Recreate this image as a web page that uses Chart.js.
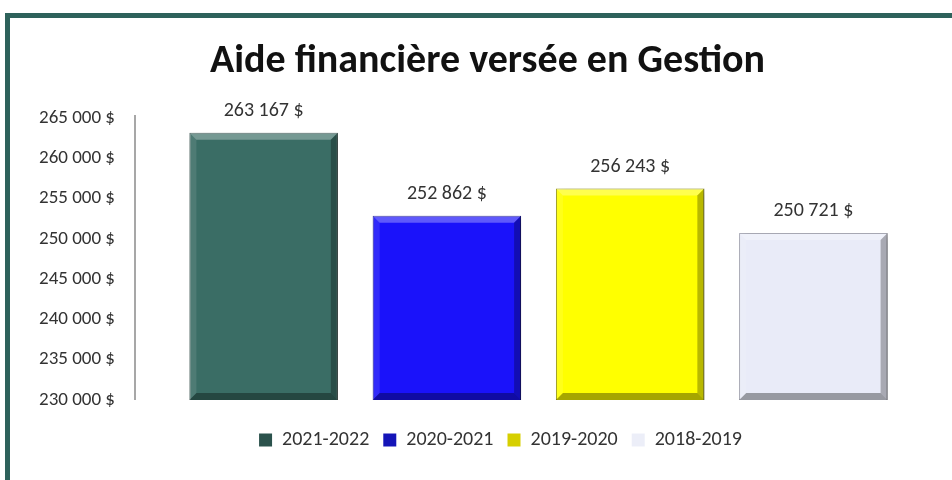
<!DOCTYPE html>
<html>
<head>
<meta charset="utf-8">
<script src="https://cdn.jsdelivr.net/npm/chart.js@4.4.1/dist/chart.umd.min.js"></script>
<style>
  html, body { margin: 0; padding: 0; background: #fff; }
  #wrap { width: 952px; height: 480px; }
</style>
</head>
<body>
<div id="wrap"><canvas id="myChart" width="952" height="480"></canvas></div>
<script>
const categories = ['2021-2022', '2020-2021', '2019-2020', '2018-2019'];
const amounts = [263167, 252862, 256243, 250721];
const barColors = ['#3a6d65', '#1a12fa', '#ffff00', '#e9ebf8'];
const edgeColors = ['#1e3d38', '#0b0990', '#8c8a00', '#8d8fa0'];
const legendColors = ['#2b524c', '#1414b8', '#d6cf00', '#eceef8'];
const yMin = 230000, yMax = 265000, yStep = 5000;

const FONT = 'Carlito, Calibri, Lato, sans-serif';

function money(v) {
    return String(v).replace(/\B(?=(\d{3})+(?!\d))/g, ' ') + ' $';
}

// white page + teal frame
const frame = {
    id: 'frame',
    beforeDraw(chart) {
        const ctx = chart.ctx;
        ctx.save();
        ctx.fillStyle = '#fff';
        ctx.fillRect(0, 0, chart.width, chart.height);
        ctx.strokeStyle = '#2e625b';
        ctx.lineWidth = 5;
        ctx.strokeRect(7.5, 15.5, 1000, 1000);
        ctx.restore();
    }
};

// title and legend sit right of the plot centre in the original
const shiftBlocks = {
    id: 'shiftBlocks',
    afterLayout(chart) {
        if (chart.titleBlock) { chart.titleBlock.left += 35; chart.titleBlock.right += 35; }
        if (chart.legend) { chart.legend.left += 48; chart.legend.right += 48; }
    }
};

// soft shadow behind bars
const barShadow = {
    id: 'barShadow',
    beforeDatasetsDraw(chart) {
        const ctx = chart.ctx;
        ctx.save();
        ctx.shadowColor = 'rgba(0,0,0,0.30)';
        ctx.shadowBlur = 8;
        ctx.shadowOffsetX = 4;
        ctx.shadowOffsetY = 2;
    },
    afterDatasetsDraw(chart) {
        chart.ctx.restore();
    }
};

function poly(ctx, pts, color) {
    ctx.beginPath();
    ctx.moveTo(pts[0][0], pts[0][1]);
    for (let i = 1; i < pts.length; i++) ctx.lineTo(pts[i][0], pts[i][1]);
    ctx.closePath();
    ctx.fillStyle = color;
    ctx.fill();
}

// bevel edges + value labels + vertical axis line
const decor = {
    id: 'decor',
    afterDatasetsDraw(chart) {
        const ctx = chart.ctx;
        const area = chart.chartArea;
        ctx.save();
        ctx.shadowColor = 'transparent';
        chart.getDatasetMeta(0).data.forEach((bar, i) => {
            const p = bar.getProps(['x', 'y', 'base', 'width'], true);
            const l = p.x - p.width / 2, r = p.x + p.width / 2, t = p.y;
            const b = Math.min(p.base, area.bottom), s = 7;
            poly(ctx, [[l, t], [r, t], [r - s, t + s], [l + s, t + s]], 'rgba(255,255,255,0.30)');
            poly(ctx, [[l, t], [l + s, t + s], [l + s, b - s], [l, b]], 'rgba(255,255,255,0.10)');
            poly(ctx, [[r, t], [r, b], [r - s, b - s], [r - s, t + s]], 'rgba(0,0,0,0.28)');
            poly(ctx, [[l, b], [l + s, b - s], [r - s, b - s], [r, b]], 'rgba(0,0,0,0.35)');

            ctx.fillStyle = '#333';
            ctx.font = '20px ' + FONT;
            ctx.textAlign = 'center';
            ctx.textBaseline = 'middle';
            ctx.fillText(money(amounts[i]), p.x, t - 22);
        });
        ctx.strokeStyle = '#8a8a8a';
        ctx.lineWidth = 1.5;
        ctx.beginPath();
        ctx.moveTo(135, area.top - 3);
        ctx.lineTo(135, area.bottom);
        ctx.stroke();
        ctx.restore();
    }
};

new Chart(document.getElementById('myChart').getContext('2d'), {
    type: 'bar',
    data: {
        labels: categories,
        datasets: [{
            label: 'Aide financière',
            data: amounts,
            backgroundColor: barColors,
            borderColor: edgeColors,
            borderWidth: 1,
            categoryPercentage: 1,
            barPercentage: 0.81
        }]
    },
    options: {
        responsive: false,
        animation: false,
        layout: { padding: { left: 0, right: 47, top: 0, bottom: 20 } },
        plugins: {
            tooltip: { enabled: false },
            title: {
                display: true,
                text: 'Aide financière versée en Gestion',
                color: '#111',
                font: { family: FONT, size: 40, weight: 'bold' },
                padding: { top: 38, bottom: 32 }
            },
            legend: {
                display: true,
                position: 'bottom',
                onClick: null,
                labels: {
                    color: '#333',
                    font: { family: FONT, size: 20 },
                    boxWidth: 13,
                    boxHeight: 13,
                    padding: 14,
                    generateLabels: () => categories.map((c, i) => ({
                        text: c,
                        fillStyle: legendColors[i],
                        strokeStyle: legendColors[i],
                        lineWidth: 0,
                        hidden: false,
                        index: i,
                        fontColor: '#333'
                    }))
                }
            }
        },
        scales: {
            x: {
                grid: { display: false },
                border: { display: false },
                ticks: { display: false },
                afterFit: s => { s.height = 16; }
            },
            y: {
                min: yMin,
                max: yMax,
                grid: { display: false, drawTicks: false },
                border: { display: false },
                ticks: {
                    stepSize: yStep,
                    padding: 57,
                    color: '#333',
                    font: { family: FONT, size: 19 },
                    callback: v => money(v)
                },
                afterFit: s => { s.width = 172; }
            }
        }
    },
    plugins: [frame, shiftBlocks, barShadow, decor]
});
</script>
</body>
</html>
